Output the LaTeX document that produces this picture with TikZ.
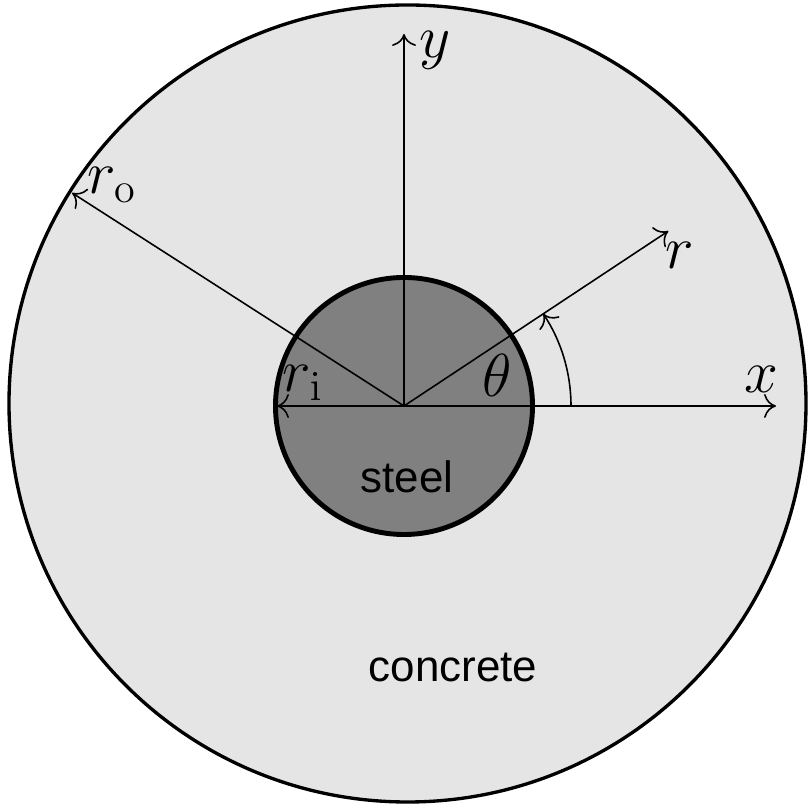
\documentclass[tikz,border=0pt]{standalone}
\usepackage[no-math]{fontspec}
\newfontfamily\labelfont{Liberation Sans}
\usepackage{amsmath, amssymb}
\usepackage{tikz}
\usetikzlibrary{arrows.meta}
\usetikzlibrary{positioning}

\begin{document}
\begin{tikzpicture}[
            axis/.style={line width=0.45pt, -{To[length=3.4pt, width=6.8pt]}},
            mathlabel/.style={inner sep=0pt, font=\fontsize{17}{20}\selectfont},
            textlabel/.style={inner sep=0pt, font=\labelfont\fontsize{12.5}{15}\selectfont}]
            \useasboundingbox (-4.04,-4.03) rectangle (4.03,4.06);
            % Concrete and steel cross section
            \filldraw[fill=black!10, line width=0.95pt] (0.035,0.025) circle (3.985);
            \filldraw[fill=black!50, line width=1.4pt] (0,0) circle (1.285);
            
            \coordinate (O) at (0,0);
            \coordinate (X) at (3.72,0);
            \coordinate (Y) at (0,3.72);
            \coordinate (R) at (33.5:3.17);
            \coordinate (Ro) at (147.3:3.945);
            \coordinate (Ri) at (180:1.27);
            
            \draw[axis] (O) -- (X);
            \draw[axis] (O) -- (Y);
            \draw[axis] (O) -- (R);
            \draw[axis] (O) -- (Ro);
            \draw[axis] (O) -- (Ri);
            \draw[axis] (1.67,0) arc (0:33.5:1.67);
            
            \node[mathlabel] (xlab) at (3.57,0.27) {$x$};
            \node[mathlabel] (ylab) at (0.31,3.56) {$y$};
            \node[mathlabel] (rlab) at (2.76,1.51) {$r$};
            \node[mathlabel] (rolab) at (-2.92,2.21) {$r_{\mathrm{o}}$};
            \node[mathlabel] (rilab) at (-1.01,0.23) {$r_{\mathrm{i}}$};
            \node[mathlabel] (thetalab) at (0.93,0.31) {$\theta$};
            \node[textlabel] (steel) at (0.03,-0.71) {steel};
            \node[textlabel] (concrete) at (0.49,-2.62) {concrete};
        \end{tikzpicture}
\end{document}
